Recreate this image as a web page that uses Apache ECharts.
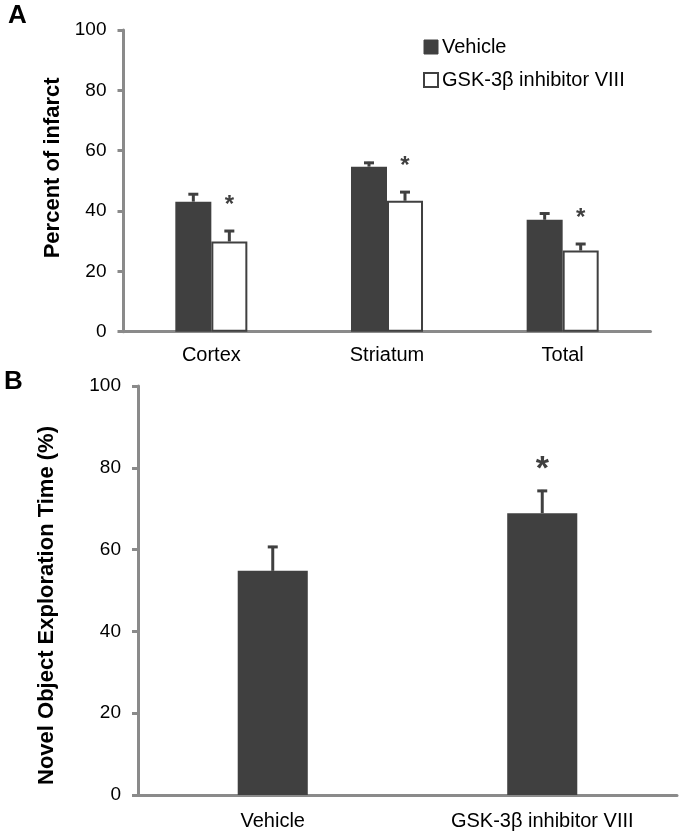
<!DOCTYPE html>
<html>
<head>
<meta charset="utf-8">
<script src="https://cdn.jsdelivr.net/npm/echarts@6/dist/echarts.min.js"></script>
<style>
html,body{margin:0;padding:0;background:#fff;}
#c{width:680px;height:835px;}
</style>
</head>
<body>
<div id="c"></div>
<script>
// ---- Data ----
const regions = ['Cortex', 'Striatum', 'Total'];
const vehicleInfarct = [43.1, 54.7, 37.1];
const vehicleInfarctErr = [2.8, 1.6, 2.4];
const gskInfarct = [29.9, 43.4, 26.9];
const gskInfarctErr = [3.8, 3.2, 2.5];
const gskInfarctSig = [true, true, true];

const groups = ['Vehicle', 'GSK-3β inhibitor VIII'];
const exploration = [54.8, 68.9];
const explorationErr = [6.1, 5.7];
const explorationSig = [false, true];

const seriesNames = ['Vehicle', 'GSK-3β inhibitor VIII'];
const yTicksA = [0, 20, 40, 60, 80, 100];
const yTicksB = [0, 20, 40, 60, 80, 100];

// ---- Styles ----
const FONT = 'Arial, "Liberation Sans", Helvetica, sans-serif';
const DARK = '#404040';
const AXIS = '#8a8a8a';

const chart = echarts.init(document.getElementById('c'), null, {renderer: 'canvas'});

const catGapA = 0.59;   // barCategoryGap for panel A
const catGapB = 0.74;   // barCategoryGap for panel B

function errRender(values, errs, sigs, nBars, barIndex, catGap, starSize, starOffset) {
  return function (params, api) {
    const i = api.value(0);
    const v = values[i], e = errs[i];
    const catW = api.size([1, 0])[0];
    const bw = catW * (1 - catGap) / nBars;
    const center = api.coord([i, 0])[0];
    const x = center - (nBars * bw) / 2 + bw * barIndex + bw / 2;
    const yBase = api.coord([i, v])[1];
    const yTop = api.coord([i, v + e])[1];
    const capHalf = 5;
    const children = [
      {type: 'line', shape: {x1: x, y1: yBase, x2: x, y2: yTop},
       style: {stroke: DARK, lineWidth: 3}},
      {type: 'line', shape: {x1: x - capHalf, y1: yTop + 1, x2: x + capHalf, y2: yTop + 1},
       style: {stroke: DARK, lineWidth: 3}}
    ];
    if (sigs[i]) {
      children.push({type: 'text', x: x, y: yTop - starOffset,
        style: {text: '*', fill: DARK, font: 'bold ' + starSize + 'px ' + FONT,
                align: 'center', verticalAlign: 'middle'}});
    }
    return {type: 'group', children: children};
  };
}

const idx3 = regions.map((_, i) => [i]);
const idx2 = groups.map((_, i) => [i]);

const option = {
  animation: false,
  backgroundColor: '#fff',
  textStyle: {fontFamily: FONT},
  graphic: [
    {type: 'text', left: 8, top: 3, style: {text: 'A', font: 'bold 26px ' + FONT, fill: '#000'}},
    {type: 'text', left: 4, top: 369, style: {text: 'B', font: 'bold 26px ' + FONT, fill: '#000'}}
  ],
  legend: {
    orient: 'vertical',
    left: 423,
    top: 37,
    padding: 0,
    itemWidth: 14,
    itemHeight: 14,
    itemGap: 13,
    icon: 'rect',
    textStyle: {fontSize: 20, color: '#000', fontFamily: FONT, padding: [0, 0, 0, -1]},
    selectedMode: false,
    data: [
      {name: seriesNames[0], itemStyle: {color: DARK, borderColor: DARK, borderWidth: 1}},
      {name: seriesNames[1], itemStyle: {color: '#fff', borderColor: DARK, borderWidth: 2}}
    ]
  },
  grid: [
    {left: 123.5, right: 29.5, top: 30, bottom: 503.3},
    {left: 138, right: 3, top: 386, bottom: 40}
  ],
  xAxis: [
    {
      gridIndex: 0, type: 'category', data: regions, boundaryGap: true,
      axisLine: {lineStyle: {color: AXIS, width: 3}},
      axisTick: {alignWithLabel: true, length: 5, lineStyle: {color: AXIS, width: 3}},
      axisLabel: {fontSize: 20, color: '#000', margin: 14, fontFamily: FONT}
    },
    {
      gridIndex: 1, type: 'category', data: groups, boundaryGap: true,
      axisLine: {lineStyle: {color: AXIS, width: 3}},
      axisTick: {length: 6, lineStyle: {color: AXIS, width: 3}},
      axisLabel: {fontSize: 20, color: '#000', margin: 16, fontFamily: FONT}
    }
  ],
  yAxis: [
    {
      gridIndex: 0, type: 'value', min: yTicksA[0], max: yTicksA[yTicksA.length - 1],
      interval: yTicksA[1] - yTicksA[0],
      name: 'Percent of infarct', nameLocation: 'middle', nameRotate: 90, nameGap: 56,
      nameTextStyle: {fontSize: 22, fontWeight: 'bold', color: '#000', fontFamily: FONT,
                      padding: [0, 0, 0, 26]},
      splitLine: {show: false},
      axisLine: {show: true, lineStyle: {color: AXIS, width: 3}},
      axisTick: {show: true, length: 6, lineStyle: {color: AXIS, width: 3}},
      axisLabel: {fontSize: 19, color: '#000', margin: 17, fontFamily: FONT}
    },
    {
      gridIndex: 1, type: 'value', min: yTicksB[0], max: yTicksB[yTicksB.length - 1],
      interval: yTicksB[1] - yTicksB[0],
      name: 'Novel Object Exploration Time (%)', nameLocation: 'middle', nameRotate: 90, nameGap: 80,
      nameTextStyle: {fontSize: 22, fontWeight: 'bold', color: '#000', fontFamily: FONT,
                      padding: [0, 30, 0, 0]},
      splitLine: {show: false},
      axisLine: {show: true, lineStyle: {color: AXIS, width: 3}},
      axisTick: {show: true, length: 6, lineStyle: {color: AXIS, width: 3}},
      axisLabel: {fontSize: 19, color: '#000', margin: 17, fontFamily: FONT}
    }
  ],
  series: [
    {
      name: seriesNames[0], type: 'bar', xAxisIndex: 0, yAxisIndex: 0,
      data: vehicleInfarct, barGap: '0%', barCategoryGap: (catGapA * 100) + '%',
      itemStyle: {color: DARK}, z: 2
    },
    {
      name: seriesNames[1], type: 'bar', xAxisIndex: 0, yAxisIndex: 0,
      data: gskInfarct, barGap: '0%', barCategoryGap: (catGapA * 100) + '%',
      itemStyle: {color: '#fff', borderColor: DARK, borderWidth: 2}, z: 2
    },
    {
      type: 'custom', xAxisIndex: 0, yAxisIndex: 0, data: idx3, z: 3,
      renderItem: errRender(vehicleInfarct, vehicleInfarctErr, [false, false, false], 2, 0, catGapA, 24, 30)
    },
    {
      type: 'custom', xAxisIndex: 0, yAxisIndex: 0, data: idx3, z: 3,
      renderItem: errRender(gskInfarct, gskInfarctErr, gskInfarctSig, 2, 1, catGapA, 24, 25)
    },
    {
      type: 'bar', xAxisIndex: 1, yAxisIndex: 1,
      data: exploration, barCategoryGap: (catGapB * 100) + '%',
      itemStyle: {color: DARK}, z: 2
    },
    {
      type: 'custom', xAxisIndex: 1, yAxisIndex: 1, data: idx2, z: 3,
      renderItem: errRender(exploration, explorationErr, explorationSig, 1, 0, catGapB, 34, 20)
    }
  ]
};
chart.setOption(option);
</script>
</body>
</html>
